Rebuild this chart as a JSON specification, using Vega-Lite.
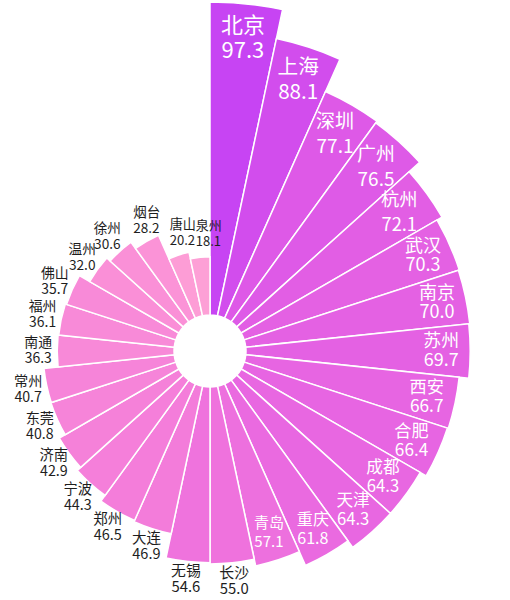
{
  "$schema": "https://vega.github.io/schema/vega-lite/v6.json",
  "width": 420,
  "height": 702,
  "autosize": "none",
  "padding": {"left": 0, "top": 0, "right": 90, "bottom": 0},
  "background": "#ffffff",
  "config": {"view": {"stroke": null}},
  "data": {
    "values": [
      {"city": "北京", "value": 97.3},
      {"city": "上海", "value": 88.1},
      {"city": "深圳", "value": 77.1},
      {"city": "广州", "value": 76.5},
      {"city": "杭州", "value": 72.1},
      {"city": "武汉", "value": 70.3},
      {"city": "南京", "value": 70.0},
      {"city": "苏州", "value": 69.7},
      {"city": "西安", "value": 66.7},
      {"city": "合肥", "value": 66.4},
      {"city": "成都", "value": 64.3},
      {"city": "天津", "value": 64.3},
      {"city": "重庆", "value": 61.8},
      {"city": "青岛", "value": 57.1},
      {"city": "长沙", "value": 55.0},
      {"city": "无锡", "value": 54.6},
      {"city": "大连", "value": 46.9},
      {"city": "郑州", "value": 46.5},
      {"city": "宁波", "value": 44.3},
      {"city": "济南", "value": 42.9},
      {"city": "东莞", "value": 40.8},
      {"city": "常州", "value": 40.7},
      {"city": "南通", "value": 36.3},
      {"city": "福州", "value": 36.1},
      {"city": "佛山", "value": 35.7},
      {"city": "温州", "value": 32.0},
      {"city": "徐州", "value": 30.6},
      {"city": "烟台", "value": 28.2},
      {"city": "唐山", "value": 20.2},
      {"city": "泉州", "value": 18.1}
    ]
  },
  "transform": [
    {"calculate": "datum.city + '\\n' + format(datum.value, '.1f')", "as": "label"}
  ],
  "encoding": {
    "theta": {
      "field": "city",
      "type": "nominal",
      "sort": null,
      "scale": {
        "domain": ["北京","上海","深圳","广州","杭州","武汉","南京","苏州","西安","合肥","成都","天津","重庆","青岛","长沙","无锡","大连","郑州","宁波","济南","东莞","常州","南通","福州","佛山","温州","徐州","烟台","唐山","泉州"],
        "paddingInner": 0,
        "paddingOuter": 0
      }
    },
    "radius": {
      "field": "value",
      "type": "quantitative",
      "scale": {"type": "linear", "domain": [0, 97.3], "range": [36, 349], "zero": true}
    }
  },
  "layer": [
    {
      "mark": {"type": "arc", "stroke": "#ffffff", "strokeWidth": 1.5},
      "encoding": {
        "color": {
          "field": "value",
          "type": "quantitative",
          "scale": {"domain": [18.1, 97.3], "range": ["#fda0d6", "#c744f3"]},
          "legend": null
        }
      }
    },
    {
      "transform": [{"filter": "datum.value >= 72"}],
      "mark": {
        "type": "text",
        "radiusOffset": -34,
        "dy": -12,
        "color": "#ffffff",
        "font": "Noto Sans CJK SC",
        "lineBreak": "\n",
        "lineHeight": 25,
        "align": "center",
        "baseline": "middle"
      },
      "encoding": {
        "text": {"field": "label", "type": "nominal"},
        "size": {
          "field": "value",
          "type": "quantitative",
          "scale": {"domain": [18.1, 57, 70, 97.3], "range": [13, 15, 18, 22]},
          "legend": null
        }
      }
    },
    {
      "transform": [{"filter": "datum.value >= 56 && datum.value < 72"}],
      "mark": {
        "type": "text",
        "radiusOffset": -29,
        "dy": -9,
        "color": "#ffffff",
        "font": "Noto Sans CJK SC",
        "lineBreak": "\n",
        "lineHeight": 19,
        "align": "center",
        "baseline": "middle"
      },
      "encoding": {
        "text": {"field": "label", "type": "nominal"},
        "size": {
          "field": "value",
          "type": "quantitative",
          "scale": {"domain": [18.1, 57, 70, 97.3], "range": [13, 15, 18, 22]},
          "legend": null
        }
      }
    },
    {
      "transform": [{"filter": "datum.value >= 29 && datum.value < 56"}],
      "mark": {
        "type": "text",
        "radiusOffset": 19,
        "dy": -8,
        "color": "#1e1e1e",
        "font": "Noto Sans CJK SC",
        "lineBreak": "\n",
        "lineHeight": 16,
        "align": "center",
        "baseline": "middle"
      },
      "encoding": {
        "text": {"field": "label", "type": "nominal"},
        "size": {
          "field": "value",
          "type": "quantitative",
          "scale": {"domain": [18.1, 57, 70, 97.3], "range": [13, 15, 18, 22]},
          "legend": null
        }
      }
    },
    {
      "transform": [{"filter": "datum.value < 29"}],
      "mark": {
        "type": "text",
        "radiusOffset": 23,
        "dx": -2,
        "dy": -8,
        "color": "#1e1e1e",
        "font": "Noto Sans CJK SC",
        "lineBreak": "\n",
        "lineHeight": 16,
        "align": "left",
        "baseline": "middle"
      },
      "encoding": {
        "text": {"field": "label", "type": "nominal"},
        "size": {
          "field": "value",
          "type": "quantitative",
          "scale": {"domain": [18.1, 57, 70, 97.3], "range": [13, 15, 18, 22]},
          "legend": null
        }
      }
    }
  ]
}
